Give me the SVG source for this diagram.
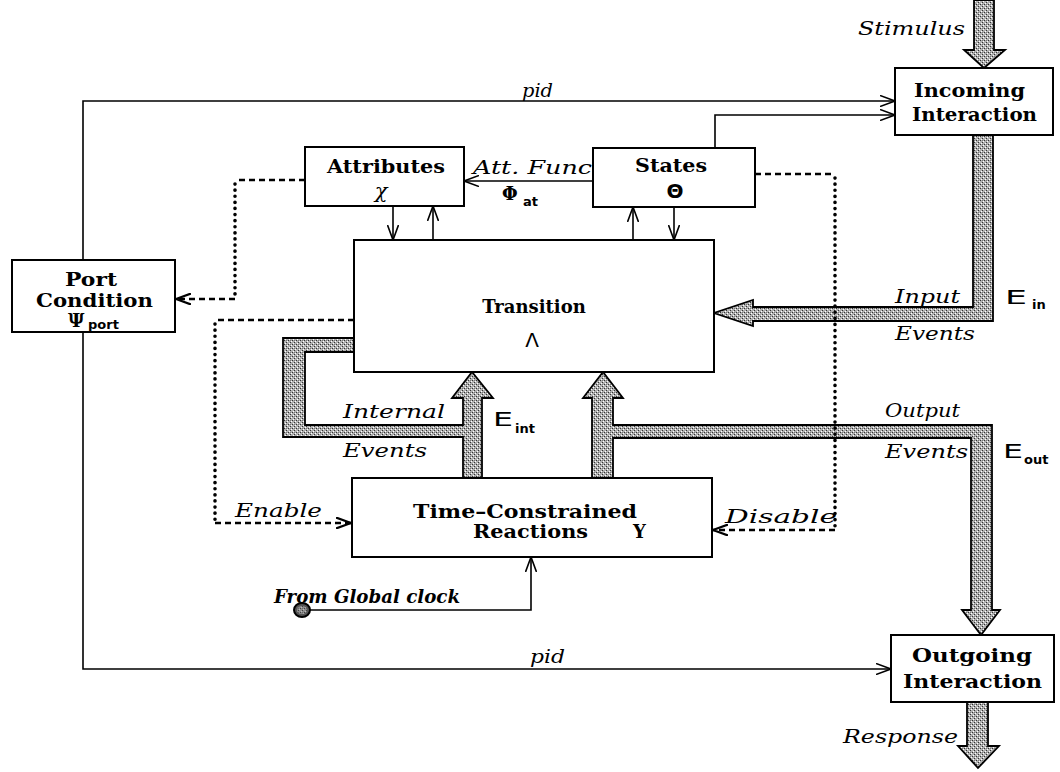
<svg xmlns="http://www.w3.org/2000/svg" width="1060" height="772" viewBox="0 0 1060 772">
<style>
.box{fill:#fff;stroke:#000;stroke-width:2}
.ln{fill:none;stroke:#000;stroke-width:1.6}
.dash{fill:none;stroke:#000;stroke-width:2.6;stroke-dasharray:6 4}
.dot{fill:none;stroke:#000;stroke-width:3.6;stroke-linecap:round;stroke-dasharray:0.1 6}
.thick{fill:url(#stip);stroke:#000;stroke-width:1.8;stroke-linejoin:miter}
.b{font-family:"DejaVu Serif",serif;font-weight:bold;font-size:18px;fill:#000}
.i{font-family:"DejaVu Serif",serif;font-style:italic;font-size:18px;fill:#000}
.s{font-family:"DejaVu Sans",sans-serif;font-size:20px;fill:#000}
.sub{font-family:"DejaVu Sans",sans-serif;font-weight:bold;font-size:13px;fill:#000}
</style>
<defs>
<pattern id="stip" width="4" height="4" patternUnits="userSpaceOnUse">
<rect width="4" height="4" fill="#b0b0b0"/>
<rect x="0" y="0" width="1" height="1" fill="#333"/>
<rect x="2" y="2" width="1" height="1" fill="#333"/>
<rect x="1" y="3" width="1" height="1" fill="#fff"/>
<rect x="3" y="1" width="1" height="1" fill="#fff"/>
<rect x="2" y="0" width="1" height="1" fill="#777"/>
</pattern>
<marker id="arr" viewBox="0 0 16 12" refX="15" refY="6" markerWidth="16" markerHeight="12" markerUnits="userSpaceOnUse" orient="auto">
<path d="M0,0.5 L15,6 L0,11.5" fill="none" stroke="#000" stroke-width="1.6"/>
</marker>
<marker id="arrd" viewBox="0 0 16 12" refX="15" refY="6" markerWidth="16" markerHeight="12" markerUnits="userSpaceOnUse" orient="auto">
<path d="M0,0.5 L15,6 L0,11.5" fill="none" stroke="#000" stroke-width="2.2"/>
</marker>
</defs>

<g id="connectors">
<polygon class="thick" points="974,0 994,0 994,50 1005,50 984,68 964,50 974,50"/>
<polygon class="thick" points="973,135 993,135 993,321 753,321 753,326 714,313 753,300 753,307 973,307"/>
<polygon class="thick" points="463,478 463,437 283,437 283,338 354,338 354,352 305,352 305,425 463,425 463,398 452,398 472,372 493,398 482,398 482,478"/>
<polygon class="thick" points="592,478 592,398 583,398 603,372 623,398 613,398 613,425 992,425 992,610 1000,610 981,635 962,610 971,610 971,438 613,438 613,478"/>
<polygon class="thick" points="967,702 988,702 988,746 999,746 978,768 958,746 967,746"/>
<polyline class="ln" points="83,260 83,101 895,101" marker-end="url(#arr)"/>
<polyline class="ln" points="715,148 715,115 895,115" marker-end="url(#arr)"/>
<line class="ln" x1="593" y1="181" x2="464" y2="181" marker-end="url(#arr)"/>
<line class="ln" x1="393" y1="206" x2="393" y2="240" marker-end="url(#arr)"/>
<line class="ln" x1="433" y1="240" x2="433" y2="206" marker-end="url(#arr)"/>
<line class="ln" x1="633" y1="240" x2="633" y2="207" marker-end="url(#arr)"/>
<line class="ln" x1="674" y1="207" x2="674" y2="240" marker-end="url(#arr)"/>
<polyline class="ln" points="83,332 83,669 891,669" marker-end="url(#arr)"/>
<polyline class="ln" points="303,610 531,610 531,557" marker-end="url(#arr)"/>
<ellipse cx="302" cy="610" rx="8" ry="7" fill="#555" stroke="#000" stroke-width="2"/>
<ellipse cx="302" cy="610" rx="5" ry="4" fill="url(#stip)" opacity="0.6"/>
<line class="dash" x1="305" y1="180" x2="235" y2="180"/>
<line class="dot" x1="235" y1="184" x2="235" y2="296"/>
<line class="dash" x1="235" y1="299" x2="176" y2="299" marker-end="url(#arrd)"/>
<line class="dash" x1="354" y1="320" x2="215" y2="320"/>
<line class="dot" x1="215" y1="324" x2="215" y2="520"/>
<line class="dash" x1="215" y1="523" x2="351" y2="523" marker-end="url(#arrd)"/>
<line class="dash" x1="755" y1="174" x2="835" y2="174"/>
<line class="dot" x1="835" y1="178" x2="835" y2="527"/>
<line class="dash" x1="835" y1="530" x2="713" y2="530" marker-end="url(#arrd)"/>
</g>

<g id="incoming">
<rect class="box" x="895" y="68" width="158" height="67"/>
<text class="b" x="914" y="97" textLength="111" lengthAdjust="spacingAndGlyphs">Incoming</text>
<text class="b" x="912" y="121" textLength="125" lengthAdjust="spacingAndGlyphs">Interaction</text>
</g>
<g id="attributes">
<rect class="box" x="305" y="147" width="159" height="59"/>
<text class="b" x="327" y="173" textLength="118" lengthAdjust="spacingAndGlyphs">Attributes</text>
<text x="381" y="198" text-anchor="middle" font-family="DejaVu Serif, serif" font-style="italic" font-size="21">χ</text>
</g>
<g id="states">
<rect class="box" x="593" y="148" width="162" height="59"/>
<text class="b" x="635" y="172" textLength="72" lengthAdjust="spacingAndGlyphs">States</text>
<text class="s" x="675" y="198" text-anchor="middle" font-size="16" font-weight="bold">Θ</text>
</g>
<g id="port">
<rect class="box" x="12" y="260" width="163" height="72"/>
<text class="b" x="65" y="286" textLength="52" lengthAdjust="spacingAndGlyphs">Port</text>
<text class="b" x="36" y="307" textLength="117" lengthAdjust="spacingAndGlyphs">Condition</text>
<text class="b" x="68" y="327">Ψ</text>
<text class="sub" x="88" y="329" font-size="15">port</text>
</g>
<g id="transition">
<rect class="box" x="354" y="240" width="360" height="132"/>
<text class="b" x="534" y="313" text-anchor="middle" font-size="19">Transition</text>
<text class="s" x="532" y="347" text-anchor="middle" font-size="19">Λ</text>
</g>
<g id="tcr">
<rect class="box" x="352" y="478" width="360" height="79"/>
<text class="b" x="413" y="518" textLength="224" lengthAdjust="spacingAndGlyphs">Time–Constrained</text>
<text class="b" x="473" y="538" textLength="115" lengthAdjust="spacingAndGlyphs">Reactions</text>
<text class="b" x="633" y="538">Y</text>
</g>
<g id="outgoing">
<rect class="box" x="891" y="635" width="163" height="67"/>
<text class="b" x="912" y="662" textLength="120" lengthAdjust="spacingAndGlyphs">Outgoing</text>
<text class="b" x="903" y="688" textLength="139" lengthAdjust="spacingAndGlyphs">Interaction</text>
</g>

<g id="labels">
<text class="i" x="858" y="35" textLength="107" lengthAdjust="spacingAndGlyphs">Stimulus</text>
<text class="i" x="522" y="97" textLength="31" lengthAdjust="spacingAndGlyphs">pid</text>
<text class="i" x="530" y="663" textLength="35" lengthAdjust="spacingAndGlyphs">pid</text>
<text class="i" x="473" y="174" textLength="119" lengthAdjust="spacingAndGlyphs">Att. Func</text>
<text class="b" x="502" y="200">Φ</text>
<text class="sub" x="523" y="206">at</text>
<text class="i" x="895" y="303" textLength="65" lengthAdjust="spacingAndGlyphs">Input</text>
<text class="i" x="895" y="340" textLength="80" lengthAdjust="spacingAndGlyphs">Events</text>
<text class="s" x="1005" y="304" textLength="22" lengthAdjust="spacingAndGlyphs">E</text>
<text class="sub" x="1032" y="309">in</text>
<text class="i" x="343" y="418" textLength="102" lengthAdjust="spacingAndGlyphs">Internal</text>
<text class="i" x="343" y="457" textLength="84" lengthAdjust="spacingAndGlyphs">Events</text>
<text class="s" x="493" y="426" textLength="20" lengthAdjust="spacingAndGlyphs">E</text>
<text class="sub" x="515" y="433">int</text>
<text class="i" x="885" y="417" textLength="75" lengthAdjust="spacingAndGlyphs">Output</text>
<text class="i" x="885" y="458" textLength="83" lengthAdjust="spacingAndGlyphs">Events</text>
<text class="s" x="1003" y="458" textLength="20" lengthAdjust="spacingAndGlyphs">E</text>
<text class="sub" x="1024" y="464">out</text>
<text class="i" x="235" y="517" textLength="87" lengthAdjust="spacingAndGlyphs">Enable</text>
<text class="i" x="725" y="523" textLength="112" lengthAdjust="spacingAndGlyphs">Disable</text>
<text class="i" x="843" y="743" textLength="115" lengthAdjust="spacingAndGlyphs">Response</text>
<text class="i" x="274" y="603" font-size="13" font-weight="bold" textLength="186" lengthAdjust="spacingAndGlyphs">From Global clock</text>
</g>
</svg>
